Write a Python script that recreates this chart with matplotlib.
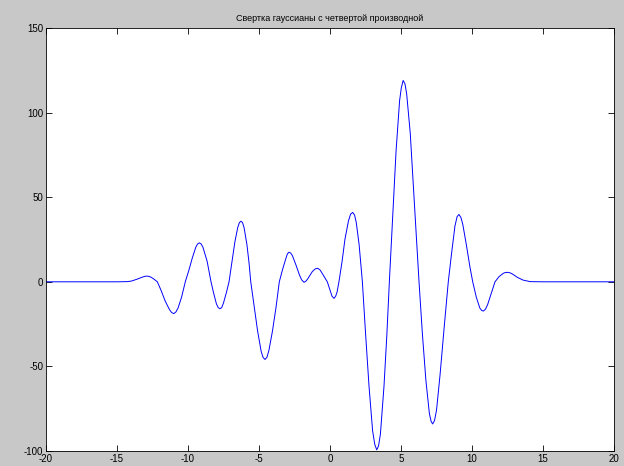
import matplotlib
matplotlib.use('Agg')
import matplotlib.pyplot as plt

# points
x_vals = [-20, -15, -14.3, -14.0, -13.6, -13.2, -13.05, -12.9, -12.75, -12.6, -12.4, -12.16,
          -11.9, -11.6, -11.3, -11.15, -11.0, -10.85, -10.7, -10.45, -10.19,
          -9.95, -9.7, -9.45, -9.32, -9.2, -9.08, -8.95, -8.65, -8.38,
          -8.2, -8.0, -7.87, -7.75, -7.63, -7.5, -7.3, -7.11,
          -6.9, -6.7, -6.5, -6.38, -6.27, -6.16, -6.05, -5.85, -5.7, -5.58,
          -5.35, -5.1, -4.85, -4.72, -4.58, -4.44, -4.3, -4.05, -3.8, -3.57,
          -3.35, -3.1, -3.0, -2.89, -2.77, -2.65, -2.4, -2.15, -2.0, -1.83, -1.68,
          -1.55, -1.25, -1.05, -0.87, -0.7, -0.55, -0.19,
          0.0, 0.14, 0.28, 0.4, 0.5, 0.63,
          0.85, 1.05, 1.3, 1.45, 1.6, 1.73, 1.85, 2.05, 2.28,
          2.5, 2.75, 3.0, 3.15, 3.29, 3.42, 3.55, 3.8, 4.0, 4.18,
          4.4, 4.65, 4.9, 5.02, 5.15, 5.28, 5.4, 5.65, 5.9, 6.1, 6.27,
          6.5, 6.75, 7.0, 7.12, 7.23, 7.36, 7.5, 7.75, 8.05, 8.33,
          8.55, 8.8, 8.95, 9.08, 9.22, 9.35, 9.6, 9.85, 10.05,
          10.3, 10.55, 10.68, 10.8, 10.95, 11.1, 11.35, 11.62,
          11.9, 12.2, 12.35, 12.51, 12.68, 12.85, 13.2, 13.6, 14.1, 15, 20]
y_vals = [0, 0, 0.1, 0.4, 1.5, 2.8, 3.2, 3.4, 3.2, 2.7, 1.6, 0,
          -5, -11.5, -16.5, -18.2, -18.8, -17.8, -15.5, -9, 0,
          6.5, 14, 20.5, 22.4, 23, 22.4, 20.5, 12, 0,
          -6.5, -13, -15.3, -15.9, -15.3, -12.5, -6.5, 0,
          12, 23.5, 32, 35, 35.8, 35, 32, 22, 11, 0,
          -14, -29, -41, -44.6, -45.9, -44.6, -40.5, -29, -15, 0,
          7, 14, 16.5, 17.5, 17, 15.5, 10, 4, 1.2, -0.3, 0.5,
          2, 6, 7.6, 8, 7, 5, 0,
          -5, -8.5, -9.8, -8.5, -6, 0,
          12, 25, 36, 40, 41, 39.5, 35, 22, 0,
          -30, -62, -88, -96, -99.3, -97, -90, -62, -32, 0,
          36, 77, 107, 114.5, 119, 117, 111, 88, 53, 24, 0,
          -30, -58, -78, -82.5, -84, -82, -76, -55, -26, 0,
          16, 33, 38.5, 39.8, 38, 34, 22, 9, 0,
          -9, -15.5, -16.9, -17.3, -16.2, -13.5, -7, 0,
          3, 5, 5.5, 5.6, 5.3, 4.6, 2.6, 1, 0.1, 0, 0]

x_ticks = [-20, -15, -10, -5, 0, 5, 10, 15, 20]
y_ticks = [-100, -50, 0, 50, 100, 150]
title = 'Свертка гауссианы с четвертой производной'

plt.rcParams['font.family'] = ['Liberation Sans', 'DejaVu Sans']
plt.rcParams['axes.unicode_minus'] = False

fig = plt.figure(figsize=(6.24, 4.66), dpi=100, facecolor='#c8c8c8')
ax = fig.add_axes([46 / 624, 15 / 466, 568 / 624, 423 / 466])
ax.plot(x_vals, y_vals, color='#0000ff', linewidth=0.7)
ax.set_xlim(-20, 20)
ax.set_ylim(-100, 150)
ax.set_xticks(x_ticks)
ax.set_yticks(y_ticks)
ax.tick_params(direction='in', top=True, right=True, labelsize=7, length=4, width=0.6, pad=2)
for s in ax.spines.values():
    s.set_linewidth(0.6)
ax.set_title(title, fontsize=6.5, pad=5)

fig.savefig('out.png', dpi=100, facecolor=fig.get_facecolor())
